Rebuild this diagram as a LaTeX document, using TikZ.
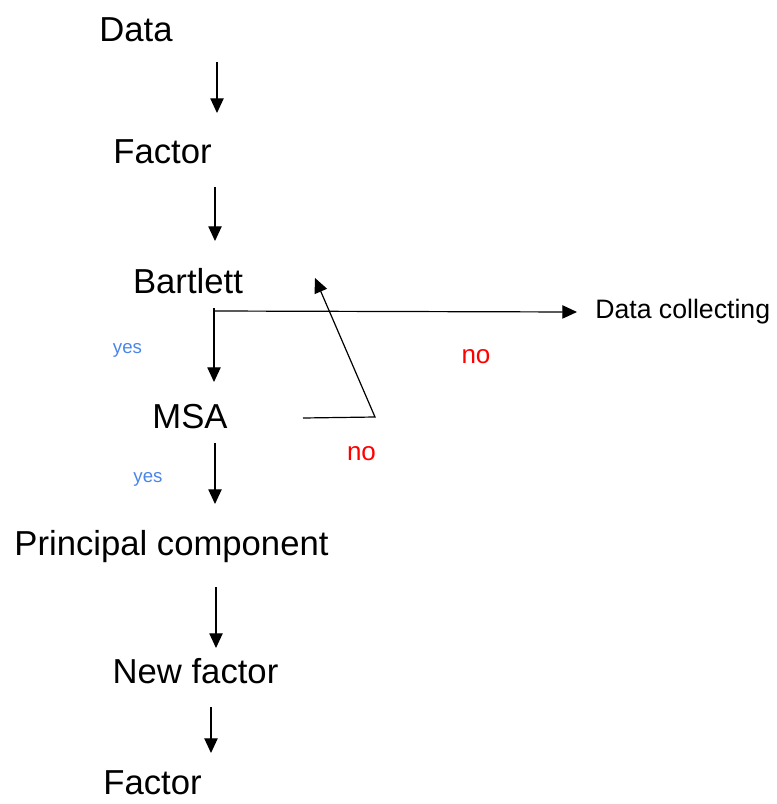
\documentclass[tikz,border=0pt]{standalone}
\usepackage{fontspec}
\setmainfont{Liberation Sans}
\usepackage{xcolor}
\usepackage{tikz}
\usetikzlibrary{arrows.meta}
\usetikzlibrary{positioning}
\definecolor{yesblue}{HTML}{4A86E8}
\definecolor{nored}{HTML}{FF0000}
\tikzstyle{every picture}=[x=0.75pt,y=-0.75pt]
\tikzstyle{step lbl}=[inner sep=0pt,anchor=base,font=\fontsize{26}{30}\selectfont]
\tikzstyle{side lbl}=[inner sep=0pt,anchor=base west,font=\fontsize{20}{24}\selectfont]
\tikzstyle{yes lbl}=[inner sep=0pt,anchor=base,text=yesblue,font=\fontsize{14}{16}\selectfont]
\tikzstyle{no lbl}=[inner sep=0pt,anchor=base,text=nored,font=\fontsize{19.5}{22}\selectfont]
\tikzstyle{arr}=[line width=0.9pt,-{Triangle[length=11pt,width=10pt]}]
\tikzstyle{plain}=[line width=0.9pt]
\begin{document}
\begin{tikzpicture}
	\useasboundingbox (0,0) rectangle (777,804);
	% steps
	\node [style=step lbl] (data) at (136, 41) {Data};
	\node [style=step lbl] (factor) at (162.5, 163) {Factor};
	\node [style=step lbl] (bartlett) at (188, 293) {Bartlett};
	\node [style=step lbl] (msa) at (190, 428) {MSA};
	\node [style=step lbl] (pca) at (171.5, 555) {Principal component};
	\node [style=step lbl] (newfactor) at (195.5, 683) {New factor};
	\node [style=step lbl] (endfactor) at (152.5, 794) {Factor};
	\node [style=side lbl] (collect) at (595, 318) {Data collecting};
	% answers
	\node [style=yes lbl] (yes1) at (127.5, 353) {yes};
	\node [style=yes lbl] (yes2) at (148, 482) {yes};
	\node [style=no lbl] (no1) at (476, 363) {no};
	\node [style=no lbl] (no2) at (361.5, 460) {no};
	% arrow ends
	\coordinate (d1) at (217, 62);
	\coordinate (f1) at (217, 113);
	\coordinate (d2) at (215, 187);
	\coordinate (f2) at (215, 241);
	\coordinate (split) at (214, 311);
	\coordinate (b1) at (214, 382);
	\coordinate (c1) at (577, 312);
	\coordinate (m1) at (303, 418);
	\coordinate (turn) at (375, 417);
	\coordinate (r1) at (315, 278);
	\coordinate (m2) at (215, 443);
	\coordinate (p1) at (215, 504);
	\coordinate (p2) at (216, 587);
	\coordinate (n1) at (216, 648);
	\coordinate (n2) at (211, 707);
	\coordinate (e1) at (211, 753);
	% connectors
	\draw [style=arr] (d1) to (f1);
	\draw [style=arr] (d2) to (f2);
	\draw [style=plain] (214, 308) to (split);
	\draw [style=arr] (split) to (c1);
	\draw [style=arr] (split) to (b1);
	\draw [style=arr] (m1) -- (turn) -- (r1);
	\draw [style=arr] (m2) to (p1);
	\draw [style=arr] (p2) to (n1);
	\draw [style=arr] (n2) to (e1);
\end{tikzpicture}
\end{document}
